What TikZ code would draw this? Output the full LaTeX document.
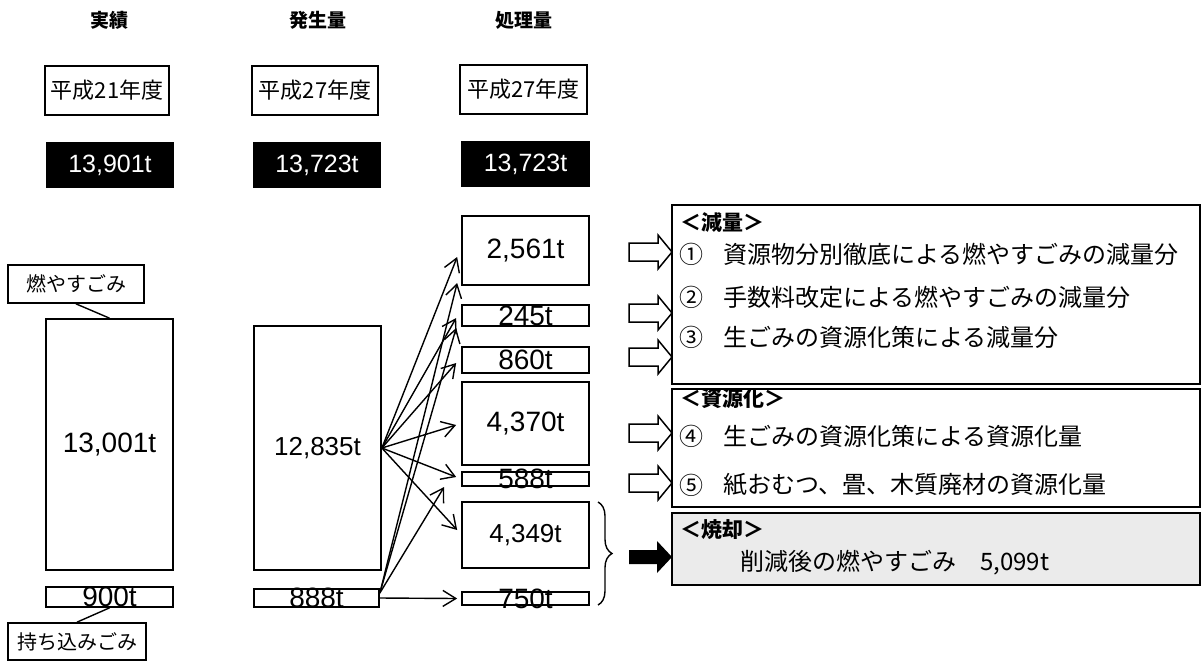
\documentclass[tikz,border=0pt]{standalone}
\usepackage{fontspec}
\setmainfont{Liberation Sans}
\newfontfamily\jp{Noto Sans CJK JP}
\usetikzlibrary{arrows.meta,decorations.pathreplacing,calc}
\newcommand\fsz[1]{\fontsize{#1}{#1}\selectfont}
\begin{document}
\begin{tikzpicture}[x=1pt,y=-1pt,
  bx/.style={draw,line width=1.7pt,inner sep=0pt,fill=white},
  blk/.style={fill=black,inner sep=0pt,text=white,font=\fsz{25pt}},
  ttl/.style={font=\jp\bfseries\fsz{19pt},inner sep=0pt},
  yr/.style={font=\jp\fsz{22pt},inner sep=0pt},
  num/.style={font=\fsz{28pt},inner sep=0pt},
  lbl/.style={font=\jp\fsz{20pt},inner sep=0pt},
  rt/.style={font=\jp\fsz{24pt},inner sep=0pt,anchor=west},
  rh/.style={font=\jp\bfseries\fsz{21pt},inner sep=0pt,anchor=west},
  arr/.style={-{Straight Barb[length=13pt,width=16pt,line width=1.4pt]},line width=1.4pt},
  conn/.style={line width=1.4pt},
  hollow/.style={line width=1.5pt,fill=white,line join=miter},
]
\useasboundingbox (0,0) rectangle (1204,662);

% titles
\node[ttl] (t1) at (109,20) {実績};
\node[ttl] (t2) at (318,20) {発生量};
\node[ttl] (t3) at (524,20) {処理量};

% year boxes
\node[bx,minimum width=124pt,minimum height=49pt] (h1) at (107,90.5) {};
\node[yr] (h1t) at (h1) {平成21年度};
\node[bx,minimum width=126pt,minimum height=49pt] (h2) at (315,90.5) {};
\node[yr] (h2t) at (h2) {平成27年度};
\node[bx,minimum width=127pt,minimum height=49pt] (h3) at (523.5,89.5) {};
\node[yr] (h3t) at (h3) {平成27年度};

% black totals
\node[blk,minimum width=128pt,minimum height=46pt] (k1) at (110,165) {13,901t};
\node[blk,minimum width=128pt,minimum height=46pt] (k2) at (317,165) {13,723t};
\node[blk,minimum width=129pt,minimum height=46pt] (k3) at (525.5,164) {13,723t};

% left column
\node[bx,minimum width=136pt,minimum height=38pt] (l1) at (76,284) {};
\node[lbl] (l1t) at (l1) {燃やすごみ};
\node[bx,minimum width=127pt,minimum height=251pt] (big1) at (109.5,444.5) {};
\node[num] (big1t) at (big1) {13,001t};
\node[bx,minimum width=127pt,minimum height=20pt] (b900) at (109.5,597) {};
\node[num] (b900t) at (b900) {900t};
\node[bx,minimum width=138pt,minimum height=37pt] (l2) at (77,641.5) {};
\node[lbl] (l2t) at (l2) {持ち込みごみ};
\draw[conn] (l1.south) -- (big1.north);
\draw[conn] (b900.south) -- (l2.north);

% middle column
\node[bx,minimum width=127pt,minimum height=244pt] (g1) at (317.5,448) {};
\node[num,font=\fsz{26pt}] (g1t) at (g1) {12,835t};
\node[bx,minimum width=125pt,minimum height=18pt] (g2) at (316.5,598) {};
\node[num] (g2t) at (g2) {888t};

% right column
\node[bx,minimum width=127pt,minimum height=69pt] (r1) at (525.5,250.5) {};
\node[num] (r1t) at (r1) {2,561t};
\node[bx,minimum width=127pt,minimum height=21pt] (r2) at (525.5,315.5) {};
\node[num] (r2t) at (r2) {245t};
\node[bx,minimum width=127pt,minimum height=26pt] (r3) at (525.5,360) {};
\node[num] (r3t) at (r3) {860t};
\node[bx,minimum width=127pt,minimum height=83pt] (r4) at (525.5,423.5) {};
\node[num] (r4t) at (r4) {4,370t};
\node[bx,minimum width=127pt,minimum height=14pt] (r5) at (525.5,479) {};
\node[num] (r5t) at (r5) {588t};
\node[bx,minimum width=127pt,minimum height=66pt] (r6) at (525.5,535) {};
\node[num,font=\fsz{26pt}] (r6t) at (r6) {4,349t};
\node[bx,minimum width=127pt,minimum height=13pt] (r7) at (525.5,598.5) {};
\node[num] (r7t) at (r7) {750t};

% arrows from 12,835t
\draw[arr] (g1.east) -- ([xshift=-4pt,yshift=-6.5pt]r1.west);
\draw[arr] (g1.east) -- ([xshift=-5pt,yshift=-2.5pt]r2.west);
\draw[arr] (g1.east) -- ([xshift=-5pt,yshift=-3pt]r3.west);
\draw[arr] (g1.east) -- ([xshift=-5pt,yshift=-1.5pt]r4.west);
\draw[arr] (g1.east) -- ([xshift=-5pt,yshift=2pt]r5.west);
\draw[arr] (g1.east) -- ([xshift=-4pt,yshift=5pt]r6.west);
% arrows from 888t
\coordinate (g2o) at ([yshift=5pt]g2.east);
\draw[arr] (g2o) -- ([xshift=-4pt,yshift=-32.5pt]r1.west);
\draw[arr] (g2o) -- ([xshift=-5pt,yshift=-12.5pt]r2.west);
\draw[arr] (g2o) -- ([xshift=-17pt,yshift=-8pt]r5.west);
\draw[arr] (g2.east) -- ([xshift=-4pt]r7.west);

% brace
\coordinate (bt) at (598,502);
\coordinate (bb) at (598,605);
\draw[decorate,decoration={brace,amplitude=14pt},line width=1.4pt] (bt) -- (bb);

% hollow arrows
\foreach \yy in {252,313,357,433,483}
  \draw[hollow] (629,{\yy-9}) -- (658,{\yy-9}) -- (658,{\yy-17}) -- (672,\yy)
     -- (658,{\yy+17}) -- (658,{\yy+9}) -- (629,{\yy+9}) -- cycle;
% black arrow
\fill[black] (629,550) -- (657,550) -- (657,541) -- (672,557) -- (657,573) -- (657,564) -- (629,564) -- cycle;

% right boxes
\node[bx,minimum width=528pt,minimum height=179pt] (R1) at (936,294.5) {};
\node[bx,minimum width=528pt,minimum height=118pt] (R2) at (936,448) {};
\node[bx,fill=gray!16,minimum width=528pt,minimum height=72pt] (R3) at (936,549) {};

\node[rh] (R1h) at (680,223) {＜減量＞};
\node[rt] (c1) at (679,254) {①};
\node[rt] (c1t) at (723,254) {資源物分別徹底による燃やすごみの減量分};
\node[rt] (c2) at (679,297) {②};
\node[rt] (c2t) at (723,297) {手数料改定による燃やすごみの減量分};
\node[rt] (c3) at (679,337) {③};
\node[rt] (c3t) at (723,337) {生ごみの資源化策による減量分};

\node[rh] (R2h) at (680,399) {＜資源化＞};
\node[rt] (c4) at (679,436) {④};
\node[rt] (c4t) at (723,436) {生ごみの資源化策による資源化量};
\node[rt] (c5) at (679,485) {⑤};
\node[rt] (c5t) at (723,485) {紙おむつ、畳、木質廃材の資源化量};

\node[rh] (R3h) at (680,530) {＜焼却＞};
\node[rt] (c6t) at (740,563) {削減後の燃やすごみ\quad 5,099t};
\end{tikzpicture}
\end{document}
